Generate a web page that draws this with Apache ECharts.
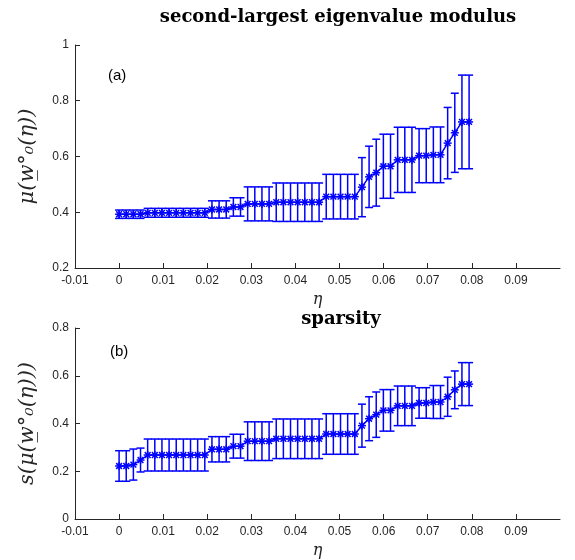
<!DOCTYPE html>
<html>
<head>
<meta charset="utf-8">
<script src="https://cdn.jsdelivr.net/npm/echarts@6/dist/echarts.min.js"></script>
<style>
  html, body { margin: 0; padding: 0; background: #fff; }
  #chart { width: 575px; height: 560px; }
</style>
</head>
<body>
<div id="chart"></div>
<script>
// eta grid
const eta = [0, 0.00162, 0.00324, 0.00486, 0.00648, 0.0081, 0.00972, 0.01134, 0.01296, 0.01458,
  0.0162, 0.01782, 0.01944, 0.02106, 0.02268, 0.0243, 0.02592, 0.02754, 0.02916, 0.03078,
  0.0324, 0.03402, 0.03564, 0.03726, 0.03888, 0.0405, 0.04212, 0.04374, 0.04536, 0.04698,
  0.0486, 0.05022, 0.05184, 0.05346, 0.05508, 0.0567, 0.05832, 0.05994, 0.06156, 0.06318,
  0.0648, 0.06642, 0.06804, 0.06966, 0.07128, 0.0729, 0.07452, 0.07614, 0.07776, 0.07938];

// (a) second-largest eigenvalue modulus: mean and error half-width
const muMean = [0.393, 0.393, 0.393, 0.393,
  0.398, 0.398, 0.398, 0.398, 0.398, 0.398, 0.398, 0.398, 0.398,
  0.41, 0.41, 0.41, 0.419, 0.419,
  0.43, 0.43, 0.43, 0.43,
  0.436, 0.436, 0.436, 0.436, 0.436, 0.436, 0.436,
  0.456, 0.456, 0.456, 0.456, 0.456,
  0.49, 0.527, 0.542, 0.565, 0.565,
  0.588, 0.588, 0.588, 0.603, 0.603, 0.606, 0.606,
  0.648, 0.685, 0.724, 0.724];
const muErr = [0.015, 0.015, 0.015, 0.015,
  0.016, 0.016, 0.016, 0.016, 0.016, 0.016, 0.016, 0.016, 0.016,
  0.031, 0.031, 0.031, 0.033, 0.033,
  0.061, 0.061, 0.061, 0.061,
  0.069, 0.069, 0.069, 0.069, 0.069, 0.069, 0.069,
  0.08, 0.08, 0.08, 0.08, 0.08,
  0.106, 0.11, 0.12, 0.115, 0.115,
  0.117, 0.117, 0.117, 0.097, 0.097, 0.1, 0.1,
  0.128, 0.142, 0.168, 0.168];

// (b) sparsity
const spMean = [0.222, 0.222, 0.228, 0.247,
  0.268, 0.268, 0.268, 0.268, 0.268, 0.268, 0.268, 0.268, 0.268,
  0.292, 0.292, 0.292, 0.305, 0.305,
  0.326, 0.326, 0.326, 0.326,
  0.336, 0.336, 0.336, 0.336, 0.336, 0.336, 0.336,
  0.356, 0.356, 0.356, 0.356, 0.356,
  0.391, 0.42, 0.437, 0.455, 0.455,
  0.474, 0.474, 0.474, 0.486, 0.486, 0.49, 0.49,
  0.512, 0.541, 0.565, 0.565];
const spErr = [0.064, 0.064, 0.065, 0.05,
  0.067, 0.067, 0.067, 0.067, 0.067, 0.067, 0.067, 0.067, 0.067,
  0.053, 0.053, 0.053, 0.05, 0.05,
  0.081, 0.081, 0.081, 0.081,
  0.083, 0.083, 0.083, 0.083, 0.083, 0.083, 0.083,
  0.085, 0.085, 0.085, 0.085, 0.085,
  0.09, 0.092, 0.095, 0.087, 0.087,
  0.083, 0.083, 0.083, 0.064, 0.064, 0.069, 0.069,
  0.082, 0.079, 0.09, 0.09];

const xTicks = [-0.01, 0, 0.01, 0.02, 0.03, 0.04, 0.05, 0.06, 0.07, 0.08, 0.09];

const BLUE = '#0000ff';
const AX = '#262626';

function errRender(params, api) {
  const x = api.value(0), m = api.value(1), e = api.value(2);
  const t = api.coord([x, m + e]);
  const b = api.coord([x, m - e]);
  const c = api.coord([x, m]);
  const cw = 4, s = 4, d = 2.9;
  const st = { stroke: BLUE, lineWidth: 1.5 };
  const ln = (x1, y1, x2, y2) => ({ type: 'line', shape: { x1, y1, x2, y2 }, style: st });
  return {
    type: 'group',
    children: [
      ln(t[0], t[1], b[0], b[1]),
      ln(t[0] - cw, t[1], t[0] + cw, t[1]),
      ln(b[0] - cw, b[1], b[0] + cw, b[1]),
      ln(c[0] - s, c[1], c[0] + s, c[1]),
      ln(c[0], c[1] - s, c[0], c[1] + s),
      ln(c[0] - d, c[1] - d, c[0] + d, c[1] + d),
      ln(c[0] - d, c[1] + d, c[0] + d, c[1] - d)
    ]
  };
}

const chart = echarts.init(document.getElementById('chart'));

const xAxisBase = {
  type: 'value',
  min: -0.01,
  max: 0.1,
  interval: 0.01,
  name: 'η',
  nameLocation: 'middle',
  nameGap: 24,
  nameTextStyle: { fontFamily: 'DejaVu Serif', fontStyle: 'italic', fontSize: 16, color: AX },
  axisLine: { show: true, onZero: false, lineStyle: { color: AX, width: 1 } },
  axisTick: { show: true, inside: true, length: 5, lineStyle: { color: AX }, customValues: xTicks },
  axisLabel: { color: AX, fontFamily: 'Liberation Sans', fontSize: 12, margin: 7, customValues: xTicks },
  splitLine: { show: false }
};

const yAxisBase = {
  type: 'value',
  interval: 0.2,
  nameLocation: 'middle',
  nameRotate: 90,
  nameTextStyle: { fontFamily: 'DejaVu Serif', fontStyle: 'italic', fontSize: 21, color: AX },
  axisLine: { show: true, onZero: false, lineStyle: { color: AX, width: 1 } },
  axisTick: { show: true, inside: true, length: 5, lineStyle: { color: AX } },
  axisLabel: { color: AX, fontFamily: 'Liberation Sans', fontSize: 12, margin: 6 },
  splitLine: { show: false }
};

chart.setOption({
  animation: false,
  title: [
    { text: 'second-largest eigenvalue modulus', left: 333, top: 3, textAlign: 'center',
      textStyle: { fontFamily: 'DejaVu Serif', fontWeight: 'bold', fontSize: 18, color: '#000' } },
    { text: 'sparsity', left: 336, top: 305, textAlign: 'center',
      textStyle: { fontFamily: 'DejaVu Serif', fontWeight: 'bold', fontSize: 18, color: '#000' } }
  ],
  grid: [
    { left: 75, right: 15, top: 45, height: 223 },
    { left: 75, right: 15, top: 328, height: 194 }
  ],
  xAxis: [
    Object.assign({}, xAxisBase, { gridIndex: 0 }),
    Object.assign({}, xAxisBase, { gridIndex: 1 })
  ],
  yAxis: [
    Object.assign({}, yAxisBase, { gridIndex: 0, min: 0.2, max: 1, name: 'μ(w̲°₀(η))', nameGap: 37 }),
    Object.assign({}, yAxisBase, { gridIndex: 1, min: 0, max: 0.8, name: 's(μ(w̲°₀(η)))', nameGap: 37 })
  ],
  graphic: [
    { type: 'text', left: 108, top: 68, style: { text: '(a)', fontFamily: 'Liberation Sans', fontSize: 15, fill: '#000' } },
    { type: 'text', left: 110, top: 344, style: { text: '(b)', fontFamily: 'Liberation Sans', fontSize: 15, fill: '#000' } }
  ],
  series: [
    {
      type: 'line', xAxisIndex: 0, yAxisIndex: 0, symbol: 'none',
      lineStyle: { color: BLUE, width: 1.5 },
      data: eta.map((x, i) => [x, muMean[i]])
    },
    {
      type: 'custom', xAxisIndex: 0, yAxisIndex: 0, renderItem: errRender,
      encode: { x: 0, y: 1 },
      data: eta.map((x, i) => [x, muMean[i], muErr[i]])
    },
    {
      type: 'line', xAxisIndex: 1, yAxisIndex: 1, symbol: 'none',
      lineStyle: { color: BLUE, width: 1.5 },
      data: eta.map((x, i) => [x, spMean[i]])
    },
    {
      type: 'custom', xAxisIndex: 1, yAxisIndex: 1, renderItem: errRender,
      encode: { x: 0, y: 1 },
      data: eta.map((x, i) => [x, spMean[i], spErr[i]])
    }
  ]
});
</script>
</body>
</html>
